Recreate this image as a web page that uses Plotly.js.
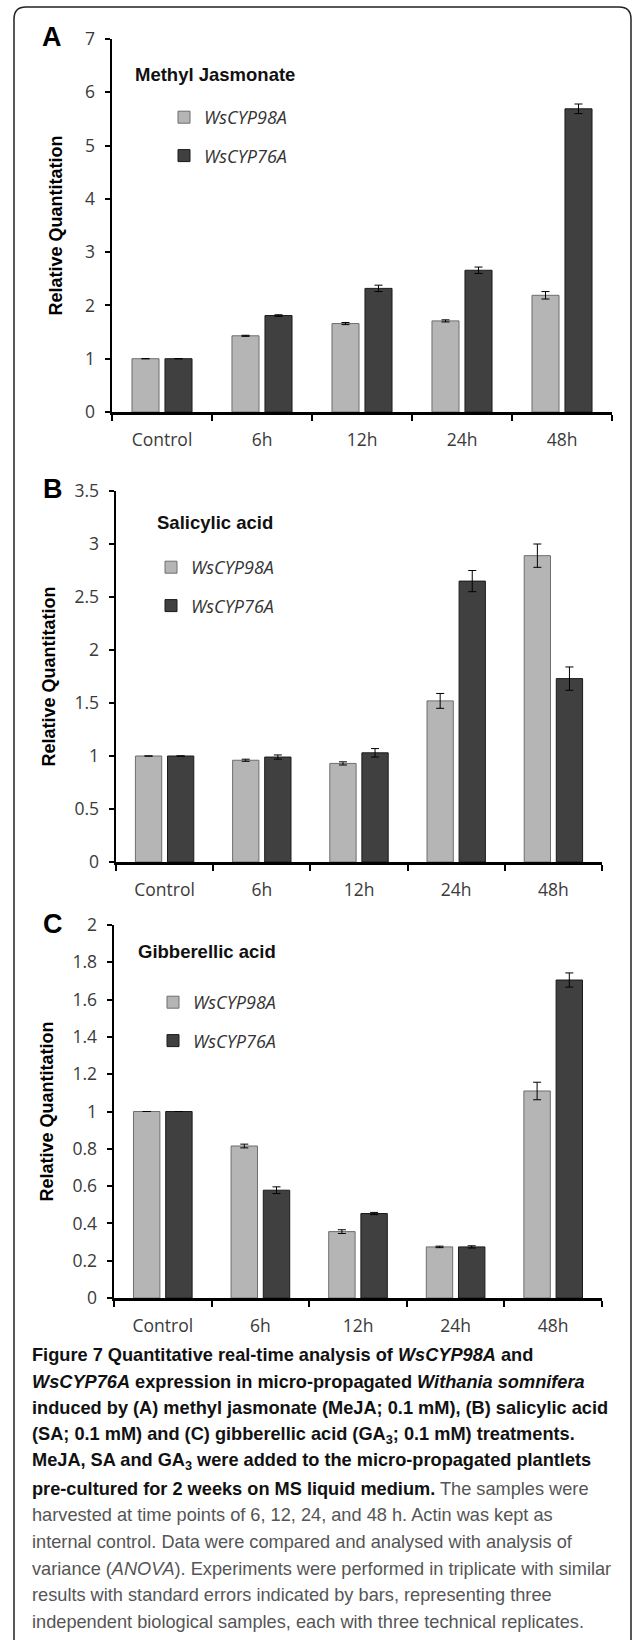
<!DOCTYPE html>
<html>
<head>
<meta charset="utf-8">
<script src="https://cdn.plot.ly/plotly-3.0.1.min.js"></script>
<style>
  html, body { margin: 0; padding: 0; background: #fff; }
  #chart { width: 633px; height: 1640px; }
</style>
</head>
<body>
<div id="chart"></div>
<script>
// ---------- data ----------
const categories = ['Control', '6h', '12h', '24h', '48h'];
const seriesNames = ['WsCYP98A', 'WsCYP76A'];

const mejaCYP98A = [1.00, 1.43, 1.66, 1.71, 2.19];
const mejaCYP98AErr = [0, 0.01, 0.02, 0.02, 0.07];
const mejaCYP76A = [1.00, 1.81, 2.32, 2.66, 5.69];
const mejaCYP76AErr = [0, 0.015, 0.06, 0.06, 0.09];

const saCYP98A = [1.00, 0.96, 0.93, 1.52, 2.89];
const saCYP98AErr = [0, 0.01, 0.015, 0.07, 0.11];
const saCYP76A = [1.00, 0.99, 1.03, 2.65, 1.73];
const saCYP76AErr = [0, 0.02, 0.04, 0.10, 0.11];

const gaCYP98A = [1.00, 0.815, 0.356, 0.274, 1.11];
const gaCYP98AErr = [0, 0.01, 0.01, 0.004, 0.047];
const gaCYP76A = [1.00, 0.578, 0.453, 0.274, 1.705];
const gaCYP76AErr = [0, 0.018, 0.006, 0.006, 0.038];

const panelTitles = ['Methyl Jasmonate', 'Salicylic acid', 'Gibberellic acid'];
const panelLetters = ['A', 'B', 'C'];
const yTitle = 'Relative Quantitation';

const captionLines = [
  '<b>Figure 7 Quantitative real-time analysis of <i>WsCYP98A</i> and</b>',
  '<b><i>WsCYP76A</i> expression in micro-propagated <i>Withania somnifera</i></b>',
  '<b>induced by (A) methyl jasmonate (MeJA; 0.1 mM), (B) salicylic acid</b>',
  '<b>(SA; 0.1 mM) and (C) gibberellic acid (GA<sub>3</sub>; 0.1 mM) treatments.</b>',
  '<b>MeJA, SA and GA<sub>3</sub> were added to the micro-propagated plantlets</b>',
  '<b>pre-cultured for 2 weeks on MS liquid medium.</b><span style="color:#555"> The samples were</span>',
  'harvested at time points of 6, 12, 24, and 48 h. Actin was kept as',
  'internal control. Data were compared and analysed with analysis of',
  'variance (<i>ANOVA</i>). Experiments were performed in triplicate with similar',
  'results with standard errors indicated by bars, representing three',
  'independent biological samples, each with three technical replicates.'
];

// ---------- geometry helpers ----------
const W = 633, H = 1640;
const px = x => x / W;
const py = y => 1 - y / H;

const LIGHT = '#b5b5b5', LIGHT_LINE = '#6e6e6e';
const DARK = '#404040', DARK_LINE = '#1a1a1a';
const TICKFONT = {family: 'Open Sans, sans-serif', size: 17.5, color: '#3a3a3a'};

function barTrace(name, y, err, fill, line, xa, ya, legend, group) {
  return {
    type: 'bar', name: name, x: categories, y: y,
    xaxis: xa, yaxis: ya, legend: legend, legendgroup: group,
    marker: {color: fill, line: {color: line, width: 1}},
    error_y: {type: 'data', array: err, visible: true, color: '#000', thickness: 1, width: 4},
    hoverinfo: 'x+y+name'
  };
}

const traces = [
  barTrace(seriesNames[0], mejaCYP98A, mejaCYP98AErr, LIGHT, LIGHT_LINE, 'x', 'y', 'legend', 'a1'),
  barTrace(seriesNames[1], mejaCYP76A, mejaCYP76AErr, DARK, DARK_LINE, 'x', 'y', 'legend', 'a2'),
  barTrace(seriesNames[0], saCYP98A, saCYP98AErr, LIGHT, LIGHT_LINE, 'x2', 'y2', 'legend2', 'b1'),
  barTrace(seriesNames[1], saCYP76A, saCYP76AErr, DARK, DARK_LINE, 'x2', 'y2', 'legend2', 'b2'),
  barTrace(seriesNames[0], gaCYP98A, gaCYP98AErr, LIGHT, LIGHT_LINE, 'x3', 'y3', 'legend3', 'c1'),
  barTrace(seriesNames[1], gaCYP76A, gaCYP76AErr, DARK, DARK_LINE, 'x3', 'y3', 'legend3', 'c2')
];

function xAxis(domain, anchor) {
  return {
    domain: domain, anchor: anchor, type: 'category', range: [-0.5, 4.5],
    showline: true, linecolor: '#000', linewidth: 2.5,
    ticks: 'outside', tickson: 'boundaries', ticklen: 6, tickwidth: 2, tickcolor: '#000',
    tickfont: TICKFONT, showgrid: false, zeroline: false, fixedrange: true,
    ticklabelstandoff: 10
  };
}
function yAxis(domain, anchor, range, dtick, titleStandoff) {
  return {
    domain: domain, anchor: anchor, range: range, dtick: dtick, tick0: 0,
    showline: true, linecolor: '#000', linewidth: 2.5,
    ticks: 'outside', ticklen: 5, tickwidth: 2, tickcolor: '#000',
    tickfont: TICKFONT, showgrid: false, zeroline: false, fixedrange: true,
    ticklabelstandoff: 6,
    title: {text: yTitle, font: {family: 'Liberation Sans, Arial, sans-serif', size: 18, color: '#000', weight: 'bold'}, standoff: titleStandoff}
  };
}

const legendBase = {
  font: {family: 'Open Sans, sans-serif', size: 18, color: '#333', style: 'italic'},
  bgcolor: 'rgba(0,0,0,0)', traceorder: 'grouped', tracegroupgap: 12,
  xanchor: 'left', yanchor: 'top', itemclick: false, itemdoubleclick: false
};

const annotations = [];
// panel letters
[[52, 37], [53, 489], [53, 924]].forEach((p, i) => {
  annotations.push({xref: 'paper', yref: 'paper', x: px(p[0]), y: py(p[1]), xanchor: 'center', yanchor: 'middle',
    text: '<b>' + panelLetters[i] + '</b>', showarrow: false,
    font: {family: 'Liberation Sans, Arial, sans-serif', size: 27, color: '#000'}});
});
// treatment names
[[133, 74], [155, 523], [136, 952]].forEach((p, i) => {
  annotations.push({xref: 'paper', yref: 'paper', x: px(p[0]), y: py(p[1]), xanchor: 'left', yanchor: 'middle',
    text: '<b>' + panelTitles[i] + '</b>', showarrow: false,
    font: {family: 'Liberation Sans, Arial, sans-serif', size: 18.5, color: '#111'}});
});
// caption
captionLines.forEach((t, i) => {
  annotations.push({xref: 'paper', yref: 'paper', x: px(30), y: py(1355 + i * 26.7), xanchor: 'left', yanchor: 'middle',
    text: t, showarrow: false, align: 'left',
    font: {family: 'Liberation Sans, sans-serif', size: 18.2, color: i < 6 ? '#111' : '#555'}});
});

// frame (rounded top corners, open bottom)
const r = 12;
const framePath = 'M ' + px(14) + ',' + py(1640) +
  ' L ' + px(14) + ',' + py(7 + r) +
  ' Q ' + px(14) + ',' + py(7) + ' ' + px(14 + r) + ',' + py(7) +
  ' L ' + px(631 - r) + ',' + py(7) +
  ' Q ' + px(631) + ',' + py(7) + ' ' + px(631) + ',' + py(7 + r) +
  ' L ' + px(631) + ',' + py(1640);

const layout = {
  width: W, height: H,
  margin: {l: 0, r: 0, t: 0, b: 0},
  paper_bgcolor: '#fff', plot_bgcolor: 'rgba(0,0,0,0)',
  barmode: 'group', bargap: 0.34, bargroupgap: 0.18,
  showlegend: true,
  xaxis: xAxis([px(112), px(612)], 'y'),
  yaxis: yAxis([py(412), py(39)], 'x', [0, 7], 1, 18),
  xaxis2: xAxis([px(116), px(602)], 'y2'),
  yaxis2: yAxis([py(862), py(491)], 'x2', [0, 3.5], 0.5, 14),
  xaxis3: xAxis([px(114), px(602)], 'y3'),
  yaxis3: yAxis([py(1298), py(925)], 'x3', [0, 2], 0.2, 14),
  legend: Object.assign({}, legendBase, {x: px(164), y: py(99)}),
  legend2: Object.assign({}, legendBase, {x: px(151), y: py(549)}),
  legend3: Object.assign({}, legendBase, {x: px(153), y: py(984)}),
  annotations: annotations,
  shapes: [{type: 'path', xref: 'paper', yref: 'paper', path: framePath, line: {color: '#222', width: 1.5}}]
};

Plotly.newPlot('chart', traces, layout, {displayModeBar: false, staticPlot: true});
</script>
</body>
</html>
